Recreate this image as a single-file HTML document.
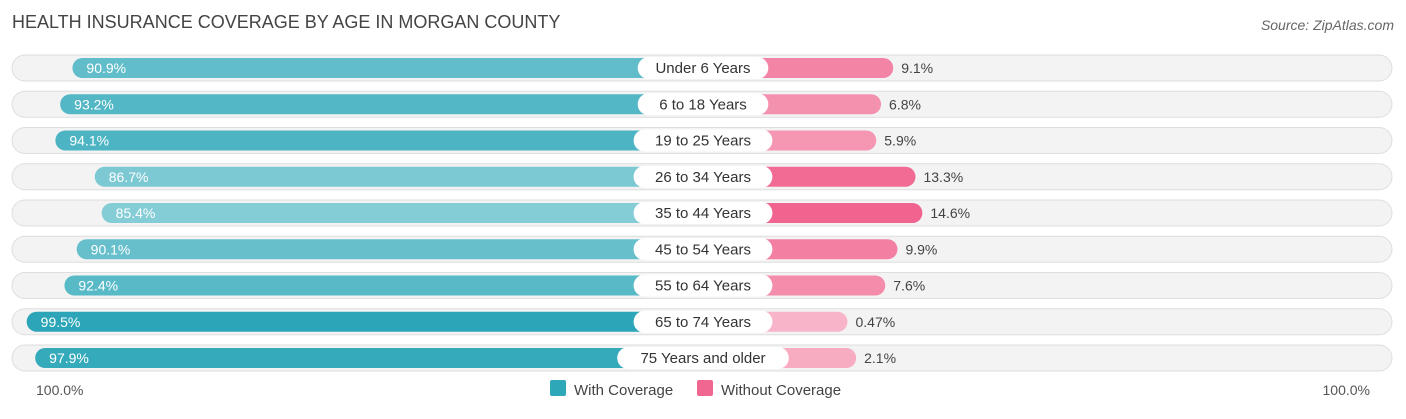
<!DOCTYPE html>
<html><head><meta charset="utf-8"><style>
body{margin:0;background:#fff;width:1406px;height:414px;overflow:hidden;font-family:"Liberation Sans",sans-serif}
</style></head><body>
<svg id="chart" width="1406" height="414" xmlns="http://www.w3.org/2000/svg" font-family="Liberation Sans, sans-serif">
<text x="12" y="28" font-size="18" fill="#444">HEALTH INSURANCE COVERAGE BY AGE IN MORGAN COUNTY</text>
<text x="1394" y="30" font-size="14" fill="#666" text-anchor="end" font-style="italic">Source: ZipAtlas.com</text>
<g id="rows"></g>
<text x="36" y="395" font-size="14" fill="#555">100.0%</text>
<text x="1370" y="395" font-size="14" fill="#555" text-anchor="end">100.0%</text>
<g><rect x="550" y="380" width="16" height="16" rx="2" fill="#2ea8b8"/><text x="574" y="395" font-size="15" fill="#444">With Coverage</text></g>
<g><rect x="697" y="380" width="16" height="16" rx="2" fill="#f06892"/><text x="721" y="395" font-size="15" fill="#444">Without Coverage</text></g>
</svg>
<script>
const categories=["Under 6 Years","6 to 18 Years","19 to 25 Years","26 to 34 Years","35 to 44 Years","45 to 54 Years","55 to 64 Years","65 to 74 Years","75 Years and older"];
const withCov=[90.9,93.2,94.1,86.7,85.4,90.1,92.4,99.5,97.9];
const withoutCov=[9.1,6.8,5.9,13.3,14.6,9.9,7.6,0.47,2.1];
const withLabels=["90.9%","93.2%","94.1%","86.7%","85.4%","90.1%","92.4%","99.5%","97.9%"];
const withoutLabels=["9.1%","6.8%","5.9%","13.3%","14.6%","9.9%","7.6%","0.47%","2.1%"];
const NS="http://www.w3.org/2000/svg";
const cx=703, sc=5.3, off=145;
const lx=v=>cx-(off+(v-100)*sc+100*sc-0*0)+0; // placeholder not used
function leftLen(v){return 5.32*v+147;}
function rightLen(v){return 5.3*v+142;}
function rowY(i){return 68+i*36.25;}
function mix(a,b,t){return 'rgb('+a.map((x,k)=>Math.round(x+(b[k]-x)*t)).join(',')+')';}
const g=document.getElementById('rows');
function el(tag,attrs,parent){const e=document.createElementNS(NS,tag);for(const k in attrs)e.setAttribute(k,attrs[k]);parent.appendChild(e);return e;}
categories.forEach((c,i)=>{
  const y=rowY(i);
  const row=el('g',{},g);
  
  
  const bg=el('rect',{x:12,y:y-13,width:1380,height:26,rx:13,fill:'#f3f3f3',stroke:'#dedede'},row);
  
  
  const L=leftLen(withCov[i]);
  const tw=Math.max(0,Math.min(1,(withCov[i]-85)/15));
  const b1=el('rect',{x:cx-L,y:y-10,width:L,height:20,rx:10,fill:mix([135,205,215],[40,164,182],tw)},row);
  
  
  const R=rightLen(withoutCov[i]);
  const tp=Math.max(0,Math.min(1,withoutCov[i]/14.6));
  const b2=el('rect',{x:cx,y:y-10,width:R,height:20,rx:10,fill:mix([248,184,203],[240,100,143],tp)},row);
  
  
  const t1=el('text',{x:cx-L+14,y:y+5,'font-size':14,fill:'#fff'},row);t1.textContent=withLabels[i];
  
  
  const lw=c.length*8.2+24;
  const pill=el('rect',{x:cx-lw/2,y:y-11,width:lw,height:22,rx:11,fill:'#fff'},row);
  
  
  const lt=el('text',{x:cx,y:y+5,'font-size':15,fill:'#333','text-anchor':'middle'},row);lt.textContent=c;
  
  
  const t2=el('text',{x:cx+R+8,y:y+5,'font-size':14,fill:'#444'},row);t2.textContent=withoutLabels[i];
  
  
});
</script>
</body></html>
